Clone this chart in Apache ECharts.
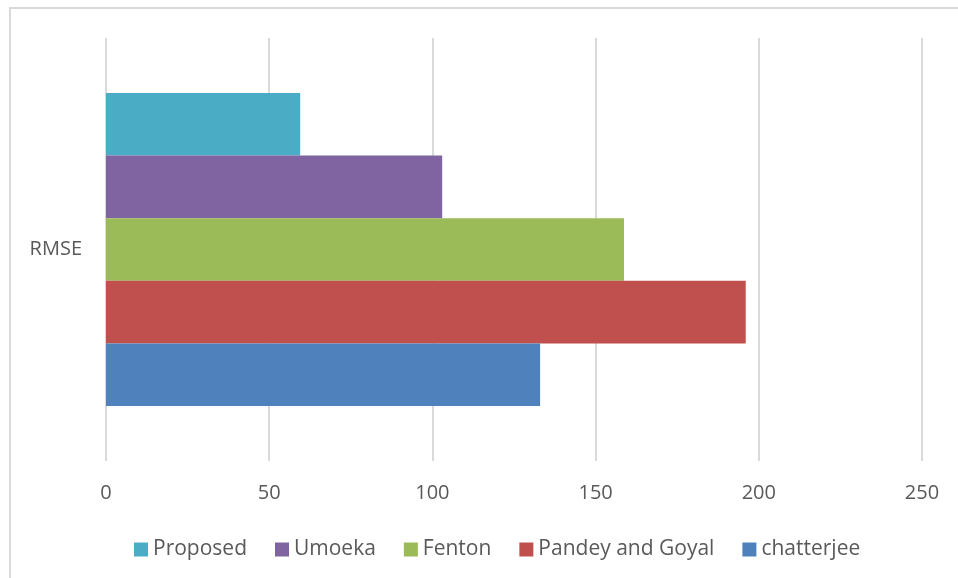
<!DOCTYPE html>
<html>
<head>
<meta charset="utf-8">
<script src="https://cdn.jsdelivr.net/npm/echarts@6/dist/echarts.min.js"></script>
<style>html,body{margin:0;padding:0;background:#fff;}#c{width:958px;height:578px;}</style>
</head>
<body>
<div id="c"></div>
<script>
const categories = ['RMSE'];
const seriesNames = ['Proposed', 'Umoeka', 'Fenton', 'Pandey and Goyal', 'chatterjee'];
const seriesValues = [[59.5], [103], [158.7], [196], [133]];
const seriesColors = ['#4BACC6', '#8064A2', '#9BBB59', '#C0504D', '#4F81BD'];
const xTicks = [0, 50, 100, 150, 200, 250];

const font = '"Open Sans", sans-serif';
const chart = echarts.init(document.getElementById('c'), null, {renderer: 'canvas'});
const series = seriesNames.map((n, i) => ({
  name: n,
  type: 'bar',
  data: seriesValues[i],
  itemStyle: {color: seriesColors[i]},
  barGap: '0%',
  barCategoryGap: '26%'
}));
chart.setOption({
  animation: false,
  backgroundColor: '#fff',
  graphic: [{
    type: 'rect',
    shape: {x: 10, y: 8, width: 960, height: 580},
    style: {fill: 'none', stroke: '#d9d9d9', lineWidth: 2},
    silent: true
  }],
  grid: {left: 106, right: 36, top: 38, bottom: 117, containLabel: false},
  xAxis: {
    type: 'value',
    min: xTicks[0],
    max: xTicks[xTicks.length - 1],
    interval: 50,
    axisLine: {show: false},
    axisTick: {show: false},
    splitLine: {show: true, lineStyle: {color: '#d9d9d9', width: 2}},
    axisLabel: {color: '#595959', fontFamily: font, fontSize: 20, margin: 22}
  },
  yAxis: {
    type: 'category',
    data: categories,
    axisLine: {show: false},
    axisTick: {show: false},
    axisLabel: {color: '#595959', fontFamily: font, fontSize: 20, margin: 24}
  },
  legend: {
    data: seriesNames,
    left: 129,
    top: 534,
    itemWidth: 14,
    itemHeight: 14,
    itemGap: 28,
    icon: 'rect',
    textStyle: {color: '#595959', fontFamily: font, fontSize: 21}
  },
  series: series
});
</script>
</body>
</html>
